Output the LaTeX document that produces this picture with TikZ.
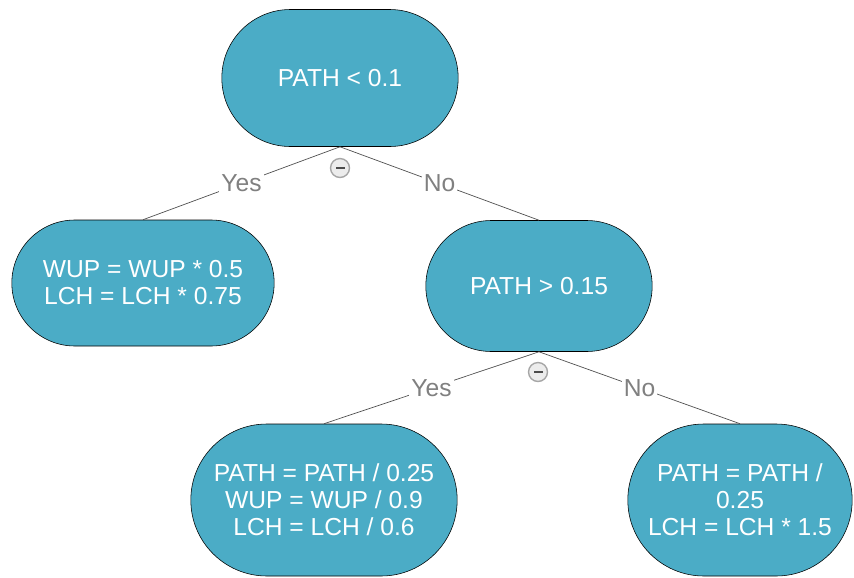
\documentclass[tikz,border=0pt]{standalone}
\usepackage{fontspec}
\setmainfont{Liberation Sans}
\usetikzlibrary{shapes.misc}
\definecolor{leafblue}{RGB}{75,172,198}
\definecolor{edgegray}{RGB}{80,80,80}
\definecolor{labelgray}{RGB}{128,128,128}
\tikzset{
    decision/.style={rounded rectangle, draw=black, line width=0.4pt, fill=leafblue,
        text=white, align=center, font=\fontsize{17.5}{19.2}\selectfont, inner sep=2pt},
    branch/.style={draw=edgegray, line width=0.5pt},
    answer/.style={fill=white, text=labelgray, font=\fontsize{17.5}{19.2}\selectfont, inner sep=1.5pt},
    collapse/.style={circle, draw=gray!70, line width=1pt, fill=gray!15, minimum size=13.5pt, inner sep=0pt}
}
\begin{document}
\begin{tikzpicture}
    \useasboundingbox (0,0) rectangle (21.35,-14.425);

    % Decision nodes
    \node[decision, minimum width=6.05cm, minimum height=3.425cm] (root) at (8.5,-1.95) {PATH < 0.1};
    \node[decision, minimum width=6.7cm, minimum height=3.15cm] (low) at (3.575,-7.075) {WUP = WUP * 0.5\\LCH = LCH * 0.75};
    \node[decision, minimum width=5.8cm, minimum height=3.275cm] (mid) at (13.475,-7.15) {PATH > 0.15};
    \node[decision, minimum width=6.8cm, minimum height=3.8cm] (midyes) at (8.1,-12.5) {PATH = PATH / 0.25\\WUP = WUP / 0.9\\LCH = LCH / 0.6};
    \node[decision, minimum width=5.75cm, minimum height=3.8cm] (midno) at (18.5,-12.5) {PATH = PATH /\\0.25\\LCH = LCH * 1.5};

    % Branches from root
    \draw[branch] (root.south) -- (low.north) node[answer, midway] (rootyes) {Yes};
    \draw[branch] (root.south) -- (mid.north) node[answer, midway] (rootno) {No};

    % Branches from second test
    \draw[branch] (mid.south) -- (midyes.north) node[answer, midway] (midyeslbl) {Yes};
    \draw[branch] (mid.south) -- (midno.north) node[answer, midway] (midnolbl) {No};

    % Collapse markers
    \node[collapse] (rootmark) at (8.5,-4.2) {};
    \fill[black!70] ([xshift=-3.2pt,yshift=-1pt]rootmark.center) rectangle ([xshift=3.2pt,yshift=1pt]rootmark.center);
    \node[collapse] (midmark) at (13.45,-9.3) {};
    \fill[black!70] ([xshift=-3.2pt,yshift=-1pt]midmark.center) rectangle ([xshift=3.2pt,yshift=1pt]midmark.center);

\end{tikzpicture}
\end{document}
